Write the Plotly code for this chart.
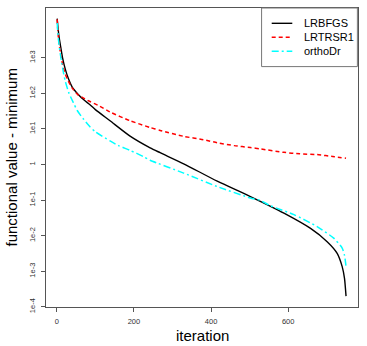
import plotly.graph_objects as go

# values
lrbfgs_iter = [1, 3, 6, 9, 15, 22, 30, 40, 55, 70, 86, 100, 138, 190, 242, 268, 329,
               416, 502, 589, 658, 701, 727, 740, 746, 750]
lrbfgs_val = [1.26e4, 7.1e3, 3.8e3, 2.4e3, 1.0e3, 4.8e2, 2.6e2, 1.5e2, 95, 66, 48, 35, 17,
              6.3, 2.95, 2.15, 1.05, 0.34, 0.126, 0.043, 0.016, 6.8e-3, 3.2e-3, 1.35e-3,
              6.3e-4, 2.0e-4]

lrtrsr1_iter = [1, 3, 6, 9, 15, 22, 30, 40, 55, 74, 86, 109, 138, 190, 242, 268, 329, 380,
                416, 460, 502, 528, 589, 630, 675, 720, 750]
lrtrsr1_val = [1.2e4, 5.2e3, 2.4e3, 1.5e3, 6.6e2, 3.5e2, 2.2e2, 1.4e2, 91, 69, 59, 45, 30,
               17, 11, 9.1, 6.2, 5.0, 4.1, 3.4, 3.0, 2.75, 2.2, 2.0, 1.9, 1.66, 1.5]

orthodr_iter = [1, 4, 9, 13, 18, 22, 31, 43, 53, 69, 86, 100, 138, 160, 190, 225, 242, 329,
                416, 502, 528, 554, 615, 675, 718, 740, 746, 750]
orthodr_val = [9.5e3, 3.5e3, 1.3e3, 7.1e2, 3.5e2, 2.2e2, 1.05e2, 55, 33, 19, 11.5, 8.3, 4.6,
               3.4, 2.5, 1.66, 1.32, 0.575, 0.24, 0.115, 0.098, 0.069, 0.039, 0.018, 8.5e-3,
               4.5e-3, 2.8e-3, 1.35e-3]

series_names = ["LRBFGS", "LRTRSR1", "orthoDr"]

x_ticks = [0, 200, 400, 600]
y_ticks = [1e-4, 1e-3, 1e-2, 1e-1, 1, 1e1, 1e2, 1e3]
y_ticktext = ["1e-4", "1e-3", "1e-2", "1e-1", "1", "1e1", "1e2", "1e3"]

FONT = "Liberation Sans, Arial, sans-serif"
AXIS_COL = "#555"

styles = [
    dict(color="black", width=1.4),
    dict(color="#ff0000", width=1.5, dash="4px,3px"),
    dict(color="#00ffff", width=1.5, dash="7px,3px,2px,3px"),
]
data = [(lrbfgs_iter, lrbfgs_val), (lrtrsr1_iter, lrtrsr1_val), (orthodr_iter, orthodr_val)]

fig = go.Figure()
for name, (xs, ys), st in zip(series_names, data, styles):
    fig.add_trace(go.Scatter(x=xs, y=ys, name=name, mode="lines", showlegend=False,
                             line=dict(shape="spline", smoothing=0.6, **st)))

axis_common = dict(showgrid=False, zeroline=False, showline=True, mirror=True,
                   linecolor=AXIS_COL, linewidth=1, ticks="outside", ticklen=4,
                   tickcolor=AXIS_COL, tickfont=dict(size=7.5, color="#333"),
                   automargin=False, ticklabelstandoff=3)

fig.update_xaxes(range=[-28, 781], tickvals=x_ticks, **axis_common)
fig.update_yaxes(type="log", range=[-4.005, 4.40], tickvals=y_ticks, ticktext=y_ticktext,
                 tickangle=-90, **axis_common)

# axis titles
fig.add_annotation(text="iteration", xref="paper", yref="paper", x=0.5, y=-0.094,
                   xanchor="center", yanchor="middle", showarrow=False,
                   font=dict(size=15, color="black"))
fig.add_annotation(text="functional value - minimum", xref="paper", yref="paper",
                   x=-0.109, y=0.5, xanchor="center", yanchor="middle", textangle=-90,
                   showarrow=False, font=dict(size=15, color="black"))

# legend box drawn like the R legend
fig.add_shape(type="rect", xref="paper", yref="paper", x0=0.691, x1=0.998, y0=0.804, y1=1.0,
              line=dict(color="#777", width=1), fillcolor="white", layer="above")
legend_y = [0.9488, 0.902, 0.8552]
for name, st, ly in zip(series_names, styles, legend_y):
    fig.add_shape(type="line", xref="paper", yref="paper", x0=0.7234, x1=0.7894, y0=ly, y1=ly,
                  line=st, layer="above")
    fig.add_annotation(text=name, xref="paper", yref="paper", x=0.8196, y=ly,
                       xanchor="left", yanchor="middle", showarrow=False,
                       font=dict(size=11, color="black"))

fig.update_layout(
    width=367, height=346,
    margin=dict(l=46, r=9, t=8, b=39),
    paper_bgcolor="white", plot_bgcolor="white",
    font=dict(family=FONT, color="black"),
    showlegend=False,
)

# drop the browser's default 8px body margin so the figure fills the window
fig.write_html("out.html", config={"displayModeBar": False},
               post_script="document.body.style.margin = '0';")
